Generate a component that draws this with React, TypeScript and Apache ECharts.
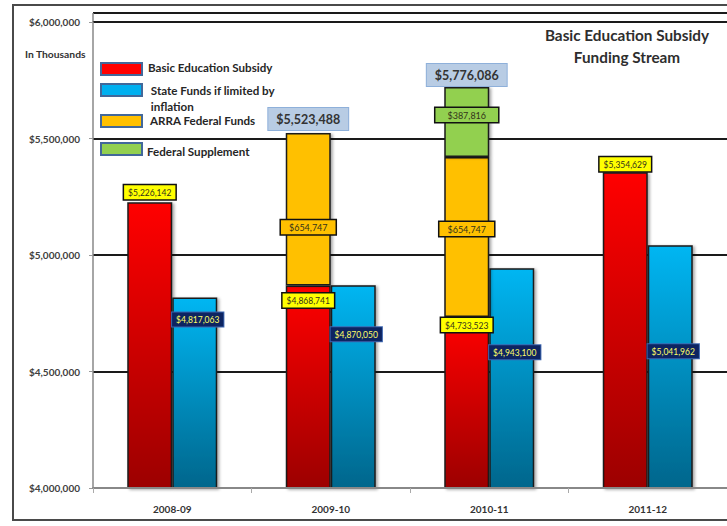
import React, { useEffect, useRef } from "react";
import * as echarts from "echarts";

// ---- data ----
const categories = ["2008-09", "2009-10", "2010-11", "2011-12"];
const basicSubsidy = [5226142, 4868741, 4733523, 5354629];
const stateFundsInflation = [4817063, 4870050, 4943100, 5041962];
// ARRA segment heights as drawn in the picture, and the values printed on them
const arraDrawn: (number | null)[] = [null, 654747, 687000, null];
const arraLabels: (number | null)[] = [null, 654747, 654747, null];
// Federal supplement segment as drawn, and its printed value
const supplementDrawn: (number | null)[] = [null, null, 300500, null];
const supplementLabels: (number | null)[] = [null, null, 387816, null];
// totals printed above the stacks
const totalLabels: (number | null)[] = [null, 5523488, 5776086, null];
const yMin = 4000000;
const yMax = 6000000;
const yStep = 500000;

const legendNames = [
  "Basic Education Subsidy",
  " State Funds if limited by\n inflation",
  "ARRA Federal Funds",
  "Federal Supplement",
];

const FONT = "Lato, 'Open Sans', sans-serif";
const fmt = (v: number) => "$" + v.toLocaleString("en-US");

// label placement (style only)
const redLabelPos = [
  { position: "top", distance: 3 },
  { position: "insideTop", distance: 8 },
  { position: "insideTop", distance: 1 },
  { position: "top", distance: 1 },
];
const blueLabelDist = [15, 42, 77, 99];
const arraOffset = [[0, 0], [0, 18], [0, -8], [0, 0]];
const suppOffset = [[0, 0], [0, 0], [0, -7], [0, 0]];
const totalDist = [3, 3, 1, 3];

const smallLabel = {
  show: true,
  fontFamily: FONT,
  fontSize: 8.5,
  color: "#33331a",
  borderColor: "#111",
  borderWidth: 1.5,
  padding: [3, 4, 2, 4],
};

export default function App() {
  const ref = useRef<HTMLDivElement>(null);
  useEffect(() => {
    if (!ref.current) return;
    const chart = echarts.init(ref.current, undefined, { renderer: "svg" });

    const redGrad = new echarts.graphic.LinearGradient(0, 0, 0, 1, [
      { offset: 0, color: "#ff0000" },
      { offset: 1, color: "#9c0000" },
    ]);
    const blueGrad = new echarts.graphic.LinearGradient(0, 0, 0, 1, [
      { offset: 0, color: "#00b6f2" },
      { offset: 1, color: "#00668c" },
    ]);
    const barShadow = {
      borderColor: "#1a1a1a",
      borderWidth: 1.5,
      shadowColor: "rgba(0,0,0,0.35)",
      shadowBlur: 3,
      shadowOffsetX: 2,
      shadowOffsetY: 1,
    };

    const legendColors = ["#ff0000", "#00b0f0", "#ffc000", "#92d050"];
    const legendRectY = [63, 84, 115, 143];
    const legendTextPos = [
      [148, 67],
      [151, 98],
      [150, 120],
      [147, 151],
    ];

    const graphic: any[] = [
      {
        type: "rect",
        shape: { x: 13, y: 5, width: 760, height: 515 },
        style: { fill: "none", stroke: "#4a4a4a", lineWidth: 2 },
        silent: true,
      },
      {
        type: "line",
        shape: { x1: 93, y1: 13, x2: 740, y2: 13 },
        style: { stroke: "#1a1a1a", lineWidth: 2 },
        silent: true,
      },
      {
        type: "line",
        shape: { x1: 93, y1: 13, x2: 93, y2: 22 },
        style: { stroke: "#888", lineWidth: 1.5 },
        silent: true,
      },
      {
        type: "text",
        x: 627,
        y: 24,
        style: {
          text: "Basic Education Subsidy\nFunding Stream",
          align: "center",
          verticalAlign: "top",
          lineHeight: 22,
          fontFamily: FONT,
          fontWeight: "bold",
          fontSize: 15.3,
          fill: "#2e2e2e",
        },
      },
      {
        type: "text",
        x: 25,
        y: 54,
        style: {
          text: "In Thousands",
          verticalAlign: "middle",
          fontFamily: FONT,
          fontWeight: "bold",
          fontSize: 10.3,
          fill: "#333",
        },
      },
    ];
    legendNames.forEach((name, i) => {
      graphic.push({
        type: "rect",
        shape: { x: 101, y: legendRectY[i], width: 41, height: 12 },
        style: { fill: legendColors[i], stroke: "#42689a", lineWidth: 2 },
      });
      graphic.push({
        type: "text",
        x: legendTextPos[i][0] - (name.startsWith(" ") ? 3 : 0),
        y: legendTextPos[i][1],
        style: {
          text: name,
          verticalAlign: "middle",
          lineHeight: 16,
          fontFamily: FONT,
          fontWeight: "bold",
          fontSize: 11.6,
          fill: "#262626",
        },
      });
    });

    const option: any = {
      animation: false,
      textStyle: { fontFamily: FONT },
      grid: { left: 93, top: 22, width: 636, height: 466, containLabel: false },
      xAxis: {
        type: "category",
        data: categories,
        axisLine: { show: true, lineStyle: { color: "#888", width: 2 } },
        axisTick: { show: true, length: 5, lineStyle: { color: "#aaa" } },
        axisLabel: {
          margin: 16,
          fontFamily: FONT,
          fontWeight: "bold",
          fontSize: 10,
          color: "#333",
        },
        z: 5,
      },
      yAxis: {
        type: "value",
        min: yMin,
        max: yMax,
        interval: yStep,
        axisLine: { show: true, lineStyle: { color: "#888", width: 1.5 } },
        axisTick: { show: true, length: 4, lineStyle: { color: "#999" } },
        axisLabel: {
          margin: 13,
          fontFamily: FONT,
          fontWeight: "bold",
          fontSize: 10,
          color: "#404040",
          formatter: (v: number) => fmt(v),
        },
        splitLine: { show: true, lineStyle: { color: "#1a1a1a", width: 2 } },
      },
      series: [
        {
          name: "Basic Education Subsidy",
          type: "bar",
          stack: "a",
          barWidth: 45,
          barGap: "0%",
          itemStyle: { color: redGrad, ...barShadow },
          data: basicSubsidy.map((v, i) => ({
            value: v,
            label: {
              ...smallLabel,
              ...redLabelPos[i],
              backgroundColor: "#ffff00",
              formatter: fmt(v),
            },
          })),
        },
        {
          name: "State Funds if limited by inflation",
          type: "bar",
          barWidth: 45,
          barGap: "0%",
          itemStyle: { color: blueGrad, ...barShadow },
          data: stateFundsInflation.map((v, i) => ({
            value: v,
            label: {
              ...smallLabel,
              position: "insideTop",
              distance: blueLabelDist[i],
              offset: [3, 0],
              backgroundColor: "#0d2461",
              borderColor: "#3d66b0",
              borderWidth: 1,
              color: "#ffff66",
              formatter: fmt(v),
            },
          })),
        },
        {
          name: "ARRA Federal Funds",
          type: "bar",
          stack: "a",
          barWidth: 45,
          itemStyle: { color: "#ffc000", ...barShadow },
          data: arraDrawn.map((v, i) => ({
            value: v,
            label:
              arraLabels[i] == null
                ? { show: false }
                : {
                    ...smallLabel,
                    fontSize: 9,
                    padding: [3, 8, 2, 8],
                    position: "inside",
                    offset: arraOffset[i],
                    backgroundColor: "#ffc000",
                    formatter: fmt(arraLabels[i] as number),
                  },
          })),
        },
        {
          name: "Federal Supplement",
          type: "bar",
          stack: "a",
          barWidth: 45,
          itemStyle: { color: "#92d050", ...barShadow },
          data: supplementDrawn.map((v, i) => ({
            value: v,
            label:
              supplementLabels[i] == null
                ? { show: false }
                : {
                    ...smallLabel,
                    fontSize: 9,
                    padding: [3, 12, 2, 12],
                    position: "inside",
                    offset: suppOffset[i],
                    backgroundColor: "#92d050",
                    formatter: fmt(supplementLabels[i] as number),
                  },
          })),
        },
        {
          name: "Total",
          type: "bar",
          stack: "a",
          barWidth: 45,
          itemStyle: { color: "transparent", borderWidth: 0 },
          data: totalLabels.map((t, i) => ({
            value: t == null ? null : 0,
            label:
              t == null
                ? { show: false }
                : {
                    show: true,
                    position: "top",
                    distance: totalDist[i],
                    fontFamily: FONT,
                    fontSize: 12.5,
                    fontWeight: "bold",
                    color: "#333",
                    backgroundColor: "#b8cce4",
                    borderColor: "#8eb0da",
                    borderWidth: 1,
                    padding: [5, 8, 4, 8],
                    formatter: fmt(t),
                  },
          })),
        },
      ],
      graphic,
    };
    chart.setOption(option);
    return () => chart.dispose();
  }, []);

  return (
    <div
      ref={ref}
      style={{ position: "absolute", left: 0, top: 0, width: 727, height: 526, background: "#fff" }}
    />
  );
}
